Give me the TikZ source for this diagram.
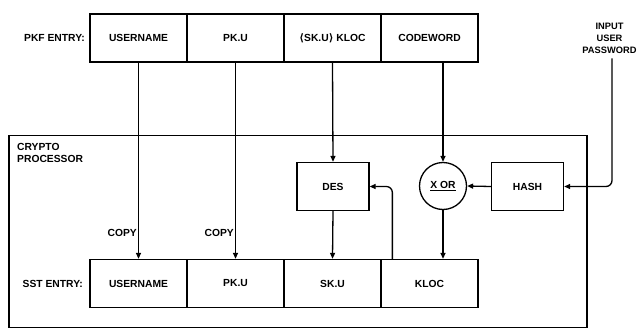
\documentclass[tikz,border=0pt]{standalone}
\usepackage{fontspec}
\setmainfont{Liberation Sans}
\newfontfamily\djv{DejaVu Sans}
\usepackage{tikz}
\usetikzlibrary{arrows.meta,positioning,calc}
\tikzset{
  cell/.style={rectangle, draw=black, line width=1.3pt, align=center,
               minimum width=97pt, minimum height=48pt, inner sep=0pt},
  box/.style={rectangle, draw=black, line width=1.3pt, align=center,
              minimum width=72pt, minimum height=48pt, inner sep=0pt},
  xorc/.style={circle, draw=black, line width=1.3pt, minimum size=47pt, inner sep=0pt},
  lbl/.style={align=center, inner sep=1pt},
  ar/.style={-{Triangle[length=6pt,width=5pt]}, draw=black, line width=1.3pt}
}

\begin{document}
\begin{tikzpicture}[x=1pt,y=-1pt,font=\fontsize{10.3}{12}\selectfont\bfseries]
\useasboundingbox (0,0) rectangle (640,329);

% crypto processor frame
\node[rectangle, draw=black, line width=1.3pt, minimum width=578pt,
      minimum height=192pt, inner sep=0pt] (cp) at (298,231.5) {};
\node[lbl, align=left, anchor=north west] (cplbl) at (16,142) {CRYPTO\\PROCESSOR};

% pkf entry
\node[lbl, anchor=east] (pkflbl) at (86,38) {PKF ENTRY:};
\node[cell] (p1) at (138.5,38) {USERNAME};
\node[cell] (p2) at (235.5,38) {PK.U};
\node[cell] (p3) at (332.5,38) {{\djv ⟨}SK.U{\djv ⟩} KLOC};
\node[cell] (p4) at (429.5,38) {CODEWORD};

% sst entry
\node[lbl, anchor=east] (sstlbl) at (84,283.5) {SST ENTRY:};
\node[cell] (s1) at (138.5,283.5) {USERNAME};
\node[cell] (s2) at (235.5,283.5) {PK.U};
\node[cell] (s3) at (332.5,283.5) {SK.U};
\node[cell] (s4) at (429.5,283.5) {KLOC};

% processing
\node[box] (des) at (333,186.5) {DES};
\node[xorc] (xor) at (443,186) {\underline{X OR}};
\node[box] (hash) at (527.5,186.5) {HASH};
\node[lbl, font=\fontsize{9.3}{12}\selectfont\bfseries] (inp) at (609.5,38) {INPUT\\USER\\PASSWORD};

\draw[ar] (p1.south) -- node[lbl, left, pos=0.87] {COPY} (s1.north);
\draw[ar] (p2.south) -- node[lbl, left, pos=0.87] {COPY} (s2.north);
\draw[ar] (p3.south) -- (des.north);
\draw[ar] (des.south) -- (s3.north);
\draw[ar] (xor.north |- p4.south) -- (xor.north);
\draw[ar] (xor.south) -- (xor.south |- s4.north);
\draw[ar] (hash.west) -- (xor.east);
\draw[ar, rounded corners=6pt] ($(s4.north west)+(12,0)$) |- (des.east);
\draw[ar, rounded corners=6pt] ($(inp.south)+(2.5,4)$) |- (hash.east);

\end{tikzpicture}
\end{document}
